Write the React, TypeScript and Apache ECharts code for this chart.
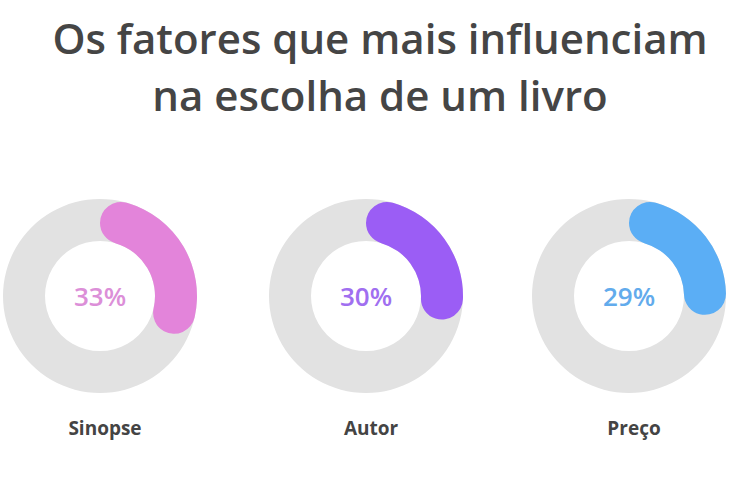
import React, { useEffect, useRef } from "react";
import * as echarts from "echarts";

const titleLines = ["Os fatores que mais influenciam", "na escolha de um livro"];
const categories = ["Sinopse", "Autor", "Preço"];
const values = [33, 30, 29];
const colors = ["#E384DA", "#9B5DF5", "#5BAEF5"];
const textColors = ["#DC8FD8", "#A06FF0", "#62ABEC"];
const centersX = [100, 366, 629];

export default function App() {
  const ref = useRef<HTMLDivElement>(null);
  useEffect(() => {
    document.body.style.margin = "0";
    const chart = echarts.init(ref.current!, null, { renderer: "svg" });
    const cy = 296;
    const series: any[] = [];
    const titles: any[] = [
      {
        text: titleLines.join("\n"),
        left: 375,
        top: 4,
        textAlign: "center",
        textStyle: {
          fontFamily: "Open Sans",
          fontWeight: 600,
          fontSize: 42,
          lineHeight: 57,
          color: "#454545",
        },
      },
    ];
    categories.forEach((cat, i) => {
      series.push({
        type: "pie",
        silent: true,
        center: [centersX[i], cy],
        radius: [55, 97],
        label: { show: false },
        labelLine: { show: false },
        itemStyle: { color: "#E2E2E2" },
        data: [{ value: 100, name: cat + "-bg" }],
      });
      series.push({
        type: "pie",
        silent: true,
        center: [centersX[i], cy],
        radius: [55, 97],
        startAngle: 90,
        clockwise: true,
        itemStyle: { borderRadius: 21 },
        labelLine: { show: false },
        data: [
          {
            value: values[i],
            name: cat,
            itemStyle: { color: colors[i] },
            label: {
              show: true,
              position: "center",
              formatter: values[i] + "%",
              fontFamily: "Open Sans",
              fontWeight: 600,
              fontSize: 26,
              color: textColors[i],
            },
          },
          {
            value: 100 - values[i],
            name: cat + "-rest",
            itemStyle: { color: "rgba(0,0,0,0)" },
            label: { show: false },
          },
        ],
      });
      titles.push({
        text: cat,
        left: centersX[i],
        top: 413,
        textAlign: "center",
        textStyle: {
          fontFamily: "Open Sans",
          fontWeight: 700,
          fontSize: 19,
          color: "#444444",
        },
      });
    });
    chart.setOption({
      animation: false,
      backgroundColor: "#ffffff",
      title: titles,
      series,
    });
    return () => chart.dispose();
  }, []);
  return <div ref={ref} style={{ width: 750, height: 500 }} />;
}
